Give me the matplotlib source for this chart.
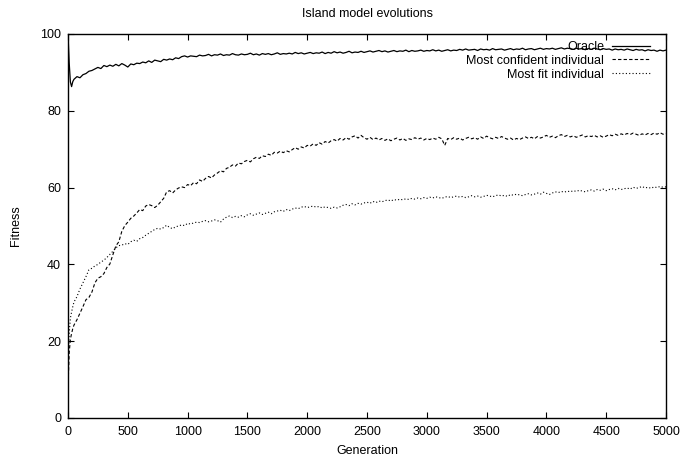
import matplotlib
matplotlib.use("Agg")
import matplotlib.pyplot as plt

plt.rcParams['font.family'] = ['Liberation Sans', 'DejaVu Sans']
plt.rcParams['font.size'] = 9

# generations sampled (dense at the very start, then every 25)
generation = [0, 10, 20, 30, 40] + list(range(50, 5001, 25))

oracle = [
    100.0, 92.5, 87.5, 86.3, 87.6,
    88.2, 88.9, 88.6, 89.4, 89.7, 90.3, 90.5, 90.9,
    91.3, 91.0, 91.8, 91.5, 91.9, 91.6, 92.1, 91.7,
    92.3, 91.9, 91.4, 92.2, 92.0, 92.4, 92.3, 92.7,
    92.5, 93.0, 92.6, 93.2, 93.0, 92.8, 93.4, 93.2,
    93.5, 93.3, 93.8, 93.6, 94.1, 94.3, 94.0, 94.3,
    94.2, 94.1, 94.5, 94.3, 94.4, 94.7, 94.3, 94.6,
    94.5, 94.8, 94.4, 94.6, 94.5, 94.9, 94.6, 94.5,
    94.8, 94.6, 94.7, 95.0, 94.6, 94.8, 94.5, 94.9,
    94.7, 94.9, 94.6, 94.8, 95.1, 94.7, 94.9, 94.8,
    95.0, 94.8, 95.2, 94.9, 95.1, 94.8, 95.0, 95.2,
    94.9, 95.1, 95.0, 95.3, 94.9, 95.2, 95.0, 95.4,
    95.1, 95.3, 95.0, 95.2, 95.5, 95.1, 95.3, 95.2,
    95.5, 95.2, 95.4, 95.6, 95.3, 95.5, 95.7, 95.4,
    95.6, 95.3, 95.5, 95.7, 95.4, 95.6, 95.5, 95.8,
    95.4, 95.7, 95.5, 95.6, 95.8, 95.5, 95.7, 95.6,
    95.9, 95.6, 95.8, 95.5, 95.7, 95.9, 95.6, 95.8,
    95.7, 96.0, 95.8, 96.1, 95.8, 95.9, 96.0, 95.7,
    96.1, 95.9, 96.0, 95.8, 96.2, 95.9, 96.0, 96.1,
    95.8, 96.0, 96.2, 95.9, 96.1, 96.0, 96.3, 95.9,
    96.1, 96.2, 95.9, 96.1, 96.3, 96.0, 96.2, 96.1,
    96.3, 96.0, 96.2, 96.4, 96.1, 96.3, 96.2, 96.0,
    96.3, 96.1, 96.2, 95.9, 96.2, 96.0, 96.3, 96.1,
    95.9, 96.2, 96.0, 96.1, 95.8, 96.1, 95.9, 96.0,
    95.8, 96.1, 95.9, 95.7, 96.0, 95.8, 95.9, 95.6,
    95.9, 95.7, 95.8, 95.5, 95.8, 95.6, 95.8,
]

most_confident = [
    8.0, 17.0, 20.5, 22.0, 23.3,
    24.2, 25.6, 27.3, 29.0, 30.8, 31.4, 32.8, 35.2,
    36.4, 36.8, 37.6, 39.2, 40.1, 42.5, 44.8, 45.9,
    48.6, 50.1, 51.0, 52.0, 52.6, 53.4, 54.3, 54.0,
    55.2, 55.6, 55.3, 54.8, 55.4, 56.3, 57.2, 58.9,
    59.2, 58.6, 59.4, 59.9, 60.2, 60.0, 60.8, 60.5,
    61.3, 61.0, 62.0, 61.6, 62.4, 62.9, 62.5, 63.3,
    63.8, 64.4, 64.1, 65.0, 65.3, 65.9, 65.6, 66.4,
    66.2, 66.8, 67.1, 66.7, 67.5, 67.9, 67.6, 68.3,
    68.1, 68.7, 68.4, 69.2, 69.0, 69.5, 69.1, 69.6,
    69.3, 69.9, 70.4, 70.0, 70.6, 70.3, 71.0, 70.8,
    71.4, 71.0, 71.7, 71.3, 72.0, 71.6, 72.2, 72.5,
    72.1, 72.8, 72.4, 73.0, 72.6, 73.2, 73.5, 72.9,
    73.6, 73.0, 72.6, 73.1, 72.5, 72.9, 72.4, 72.8,
    72.3, 72.7, 72.2, 72.6, 72.9, 72.4, 72.8, 72.3,
    72.7, 72.5, 73.0, 72.6, 72.9, 72.4, 72.8, 72.5,
    72.9, 72.6, 73.1, 72.7, 71.0, 72.8, 72.5, 73.0,
    72.6, 72.9, 72.4, 72.8, 73.1, 72.7, 73.0, 72.6,
    73.2, 72.8, 73.4, 73.0, 72.7, 73.1, 72.8, 73.3,
    72.9, 72.6, 72.9, 72.4, 72.8, 72.5, 72.9, 73.2,
    72.8, 73.1, 72.7, 73.3, 72.9, 73.2, 73.6, 73.1,
    73.4, 73.0, 73.5, 73.8, 73.3, 73.6, 73.2, 73.5,
    73.1, 73.4, 73.7, 73.2, 73.5, 73.3, 73.6, 73.2,
    73.5, 73.1, 73.4, 73.8, 73.5, 73.9, 73.6, 74.0,
    73.7, 74.1, 73.8, 74.2, 73.9, 73.6, 74.0, 73.7,
    74.1, 73.8, 74.2, 73.9, 74.3, 73.9, 74.1,
]

most_fit = [
    15.0, 22.0, 26.0, 27.6, 29.0,
    30.2, 31.6, 33.6, 35.2, 36.8, 38.6, 39.0, 39.6,
    40.0, 40.6, 41.1, 41.8, 42.6, 43.4, 44.3, 44.9,
    45.0, 45.4, 45.2, 45.9, 46.3, 46.0, 46.7, 47.0,
    47.6, 48.1, 48.6, 49.1, 49.4, 49.2, 49.6, 50.2,
    49.6, 49.3, 49.8, 50.0, 50.3, 50.1, 50.7, 50.5,
    50.8, 51.0, 50.9, 51.2, 51.4, 51.1, 51.3, 51.6,
    51.4, 51.0, 51.8, 52.3, 52.6, 52.2, 52.5, 52.3,
    52.7, 52.4, 52.9, 53.2, 52.8, 53.1, 53.4, 53.0,
    53.3, 53.6, 53.2, 53.7, 53.9, 54.1, 53.8, 54.3,
    54.0, 54.4, 54.7, 54.5, 54.9, 55.1, 54.8, 55.0,
    55.2, 54.9, 55.1, 54.7, 55.0, 54.8, 54.6, 54.9,
    54.7, 55.0, 55.4, 55.6, 55.3, 55.8, 55.5, 55.9,
    55.7, 56.0, 56.2, 55.9, 56.4, 56.1, 56.5, 56.3,
    56.6, 56.8, 56.5, 56.9, 56.7, 57.0, 56.8, 57.1,
    56.9, 57.2, 57.0, 57.3, 57.1, 57.4, 57.2, 57.5,
    57.3, 57.6, 57.4, 57.2, 57.5, 57.7, 57.4, 57.6,
    57.8, 57.5, 57.7, 57.4, 57.6, 57.9, 57.6, 57.8,
    57.5, 57.7, 58.0, 57.8, 57.6, 57.9, 58.1, 57.8,
    58.0, 57.7, 58.2, 58.0, 58.3, 58.1, 57.9, 58.2,
    58.4, 58.1, 58.3, 58.6, 58.3, 58.8, 58.5, 58.2,
    58.6, 58.9, 58.7, 59.0, 58.8, 59.1, 58.9, 59.2,
    59.0, 59.3, 59.1, 58.9, 59.2, 59.4, 59.1, 59.5,
    59.3, 59.6, 59.2, 59.5, 59.7, 59.4, 59.8, 59.5,
    59.7, 59.9, 59.6, 60.1, 59.8, 60.0, 60.3, 59.9,
    60.1, 59.8, 60.2, 60.0, 60.3, 60.1, 60.2,
]

series_labels = ["Oracle", "Most confident individual", "Most fit individual"]
x_ticks = list(range(0, 5001, 500))
y_ticks = list(range(0, 101, 20))

fig = plt.figure(figsize=(6.81, 4.57), dpi=100)
ax = fig.add_axes([68 / 681, 1 - 418 / 457, 598 / 681, 384 / 457])

ax.plot(generation, oracle, color='black', lw=0.9, label=series_labels[0])
ax.plot(generation, most_confident, color='black', lw=0.8,
        linestyle=(0, (3, 2)), label=series_labels[1])
ax.plot(generation, most_fit, color='black', lw=0.8,
        linestyle=(0, (1, 2)), label=series_labels[2])

ax.set_xlim(0, 5000)
ax.set_ylim(0, 100)
ax.set_xticks(x_ticks)
ax.set_yticks(y_ticks)
ax.tick_params(direction='in', length=4, width=0.8, top=True, right=True,
               labelsize=9)
ax.tick_params(axis='x', pad=6)
ax.tick_params(axis='y', pad=5)
for sp in ax.spines.values():
    sp.set_linewidth(1.0)

# gnuplot-style key: text right-aligned, sample to the right, no frame
ax.legend(loc='upper right', bbox_to_anchor=(0.973, 0.982), frameon=False,
          markerfirst=False, handlelength=3.0, handletextpad=0.65,
          labelspacing=0.15, borderpad=0, borderaxespad=0, fontsize=9)

fig.text(367 / 681, 1 - 14 / 457, "Island model evolutions",
         ha='center', va='center', fontsize=9)
fig.text(367 / 681, 1 - 451 / 457, "Generation",
         ha='center', va='center', fontsize=9)
fig.text(16 / 681, 1 - 226 / 457, "Fitness", rotation=90,
         ha='center', va='center', fontsize=9)

fig.savefig("out.png", dpi=100)
